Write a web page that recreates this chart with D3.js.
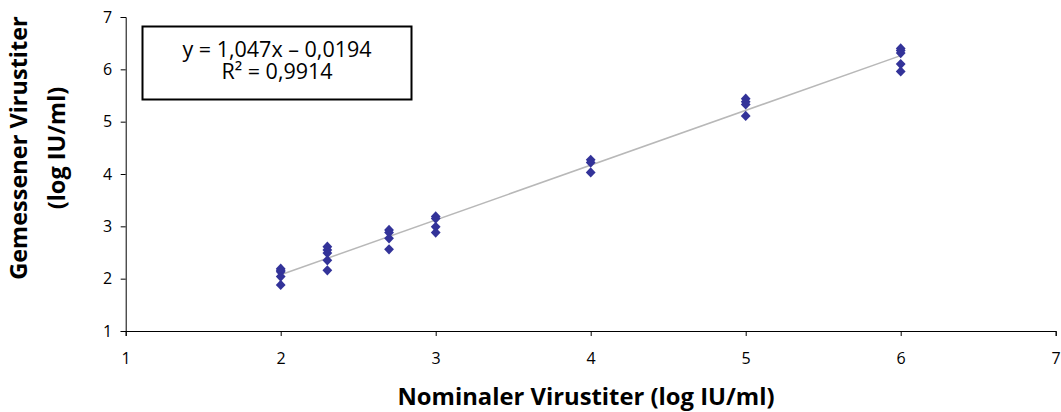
<!DOCTYPE html>
<html><head><meta charset="utf-8">
<script src="https://cdn.jsdelivr.net/npm/d3@7"></script>
<style>body{margin:0;background:#fff}svg{display:block}text{font-family:"Open Sans",Lato,sans-serif;fill:#000}</style>
</head><body><svg id="c" width="1061" height="412"></svg>
<script>
const nominal = [2,2,2,2,2, 2.301,2.301,2.301,2.301,2.301, 2.699,2.699,2.699,2.699, 3,3,3,3, 4,4,4, 5,5,5,5, 6,6,6,6,6];
const measured = [2.19,2.16,2.13,2.04,1.88, 2.61,2.55,2.49,2.35,2.16, 2.93,2.88,2.77,2.56, 3.19,3.15,2.99,2.88, 4.27,4.22,4.03, 5.44,5.38,5.33,5.11, 6.40,6.36,6.31,6.10,5.96];
const xTicks = [1,2,3,4,5,6,7];
const yTicks = [1,2,3,4,5,6,7];
const slope = 1.047, intercept = -0.0194;
const fitRange = [2,6];
const eqLine1 = "y = 1,047x – 0,0194";
const eqLine2 = "R² = 0,9914";
const xTitle = "Nominaler Virustiter (log IU/ml)";
const yTitle = ["Gemessener Virustiter", "(log IU/ml)"];

const svg = d3.select("#c");
const x = d3.scaleLinear().domain([1,7]).range([125.7,1055.7]);
const y = d3.scaleLinear().domain([1,7]).range([331,17]);

const xa = svg.append("g").attr("transform","translate(0,331)")
  .call(d3.axisBottom(x).tickValues(xTicks).tickSize(5).tickPadding(17).tickFormat(d3.format("d")));
const ya = svg.append("g").attr("transform","translate(125.7,0)")
  .call(d3.axisLeft(y).tickValues(yTicks).tickSize(5).tickPadding(8.5).tickFormat(d3.format("d")));
[xa,ya].forEach(a=>{
  a.selectAll("path,line").attr("stroke","#000").attr("stroke-width",1);
  a.selectAll("text").style("font-family","'Open Sans', sans-serif").style("font-size","16px").attr("fill","#000");
});

// regression line
svg.append("line")
  .attr("x1",x(fitRange[0])).attr("y1",y(slope*fitRange[0]+intercept))
  .attr("x2",x(fitRange[1])).attr("y2",y(slope*fitRange[1]+intercept))
  .attr("stroke","#b8b8b8").attr("stroke-width",1.5);

// points
const sym = d3.symbol().type(d3.symbolSquare).size(48);
svg.append("g").selectAll("path").data(nominal.map((d,i)=>[d,measured[i]])).join("path")
  .attr("d",sym).attr("transform",d=>`translate(${x(d[0])},${y(d[1])}) scale(1,1.05) rotate(45)`)
  .attr("fill","#333399");

// equation box
svg.append("rect").attr("x",142.5).attr("y",26.5).attr("width",269).attr("height",73)
  .attr("fill","#fff").attr("stroke","#000").attr("stroke-width",2);
const eq = svg.append("text").attr("text-anchor","middle").style("font-size","21.5px");
eq.append("tspan").attr("x",277).attr("y",56.5).text(eqLine1);
eq.append("tspan").attr("x",277).attr("y",79).text(eqLine2);

// axis titles
svg.append("text").attr("x",586).attr("y",405).attr("text-anchor","middle")
  .style("font-size","23.8px").style("font-weight","bold").text(xTitle);
const yt = svg.append("text").attr("transform","translate(0,148) rotate(-90)")
  .attr("text-anchor","middle").style("font-size","23.5px").style("font-weight","bold");
yt.append("tspan").attr("x",0).attr("y",27).text(yTitle[0]);
yt.append("tspan").attr("x",0).attr("y",65).text(yTitle[1]);
</script></body></html>
